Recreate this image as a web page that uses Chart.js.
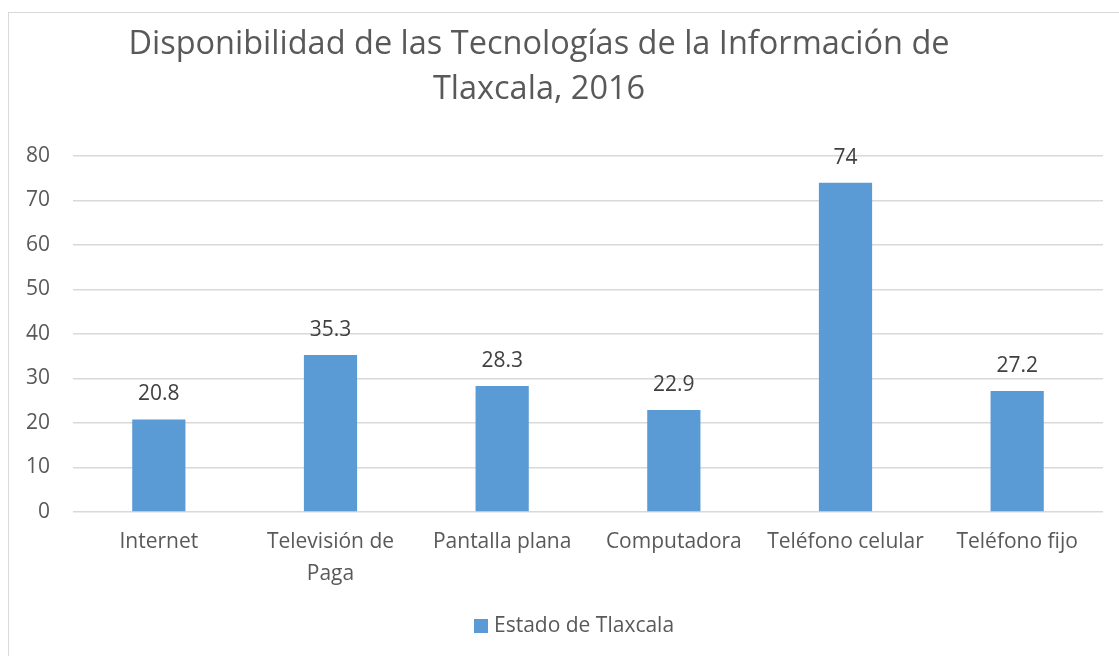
<!DOCTYPE html>
<html>
<head>
<meta charset="utf-8">
<script src="https://cdn.jsdelivr.net/npm/chart.js@4/dist/chart.umd.min.js"></script>
<style>
  html, body { margin: 0; padding: 0; background: #fff; overflow: hidden; }
  #frame { position: absolute; left: 8px; top: 12px; width: 1200px; height: 700px; border: 1.5px solid #d9d9d9; }
  #wrap { position: absolute; left: 0; top: 0; width: 1119px; height: 656px; }
</style>
</head>
<body>
<div id="frame"></div>
<div id="wrap"><canvas id="chart"></canvas></div>
<script>
// chart data
const categories = [
  "Internet",
  ["Televisión de", "Paga"],
  "Pantalla plana",
  "Computadora",
  "Teléfono celular",
  "Teléfono fijo",
];
const values = [20.8, 35.3, 28.3, 22.9, 74, 27.2];
const seriesName = "Estado de Tlaxcala";
const titleLines = ["Disponibilidad de las Tecnologías de la Información de", "Tlaxcala, 2016"];
const yTicks = [0, 10, 20, 30, 40, 50, 60, 70, 80];

const FONT = "'Open Sans', 'DejaVu Sans', sans-serif";
const grey = "#595959";
const barColor = "#5b9bd5";

// title drawn by hand so it can sit off-center like the original
const titlePlugin = {
  id: "titleText",
  afterDraw(chart) {
    const ctx = chart.ctx;
    ctx.save();
    ctx.font = "32.5px " + FONT;
    ctx.fillStyle = grey;
    ctx.textAlign = "center";
    ctx.textBaseline = "alphabetic";
    ctx.fillText(titleLines[0], 539, 54);
    ctx.fillText(titleLines[1], 539, 99);
    ctx.restore();
  },
};

// value labels above each bar
const valueLabels = {
  id: "valueLabels",
  afterDatasetsDraw(chart) {
    const ctx = chart.ctx;
    const meta = chart.getDatasetMeta(0);
    ctx.save();
    ctx.font = "21px " + FONT;
    ctx.fillStyle = "#404040";
    ctx.textAlign = "center";
    ctx.textBaseline = "middle";
    meta.data.forEach((bar, i) => {
      ctx.fillText(String(values[i]), bar.x, bar.y - 25);
    });
    ctx.restore();
  },
};

// legend - excel puts it a bit right of centre with a tight gap
const legendPlugin = {
  id: "legendBox",
  afterDraw(chart) {
    const ctx = chart.ctx;
    const ds = chart.data.datasets[0];
    ctx.save();
    ctx.fillStyle = ds.backgroundColor;
    ctx.fillRect(474, 619, 14, 14);
    ctx.font = "21px " + FONT;
    ctx.fillStyle = grey;
    ctx.textAlign = "left";
    ctx.textBaseline = "middle";
    ctx.fillText(ds.label, 494, 626);
    ctx.restore();
  },
};

new Chart(document.getElementById("chart"), {
  type: "bar",
  plugins: [titlePlugin, valueLabels, legendPlugin],
  data: {
    labels: categories,
    datasets: [
      {
        label: seriesName,
        data: values,
        backgroundColor: barColor,
        categoryPercentage: 1,
        barPercentage: 0.31,
      },
    ],
  },
  options: {
    responsive: true,
    maintainAspectRatio: false,
    animation: false,
    layout: { padding: { top: 156, left: 0, right: 16, bottom: 50 } },
    plugins: {
      title: { display: false },
      tooltip: { enabled: false },
      legend: { display: false },
    },
    scales: {
      x: {
        grid: { display: false, drawTicks: false },
        border: { display: false },
        ticks: {
          color: grey,
          font: { family: FONT, size: 21, lineHeight: 1.52 },
          padding: 14,
          maxRotation: 0,
          autoSkip: false,
        },
        afterFit(scale) { scale.height = 94; },
      },
      y: {
        min: 0,
        max: 80,
        afterBuildTicks(scale) { scale.ticks = yTicks.map(v => ({ value: v })); },
        grid: { color: "#d9d9d9", lineWidth: 1.5, drawTicks: false },
        border: { display: false },
        ticks: {
          color: grey,
          font: { family: FONT, size: 21 },
          padding: 23,
        },
        afterFit(scale) { scale.width = 73; },
      },
    },
  },
});
</script>
</body>
</html>
